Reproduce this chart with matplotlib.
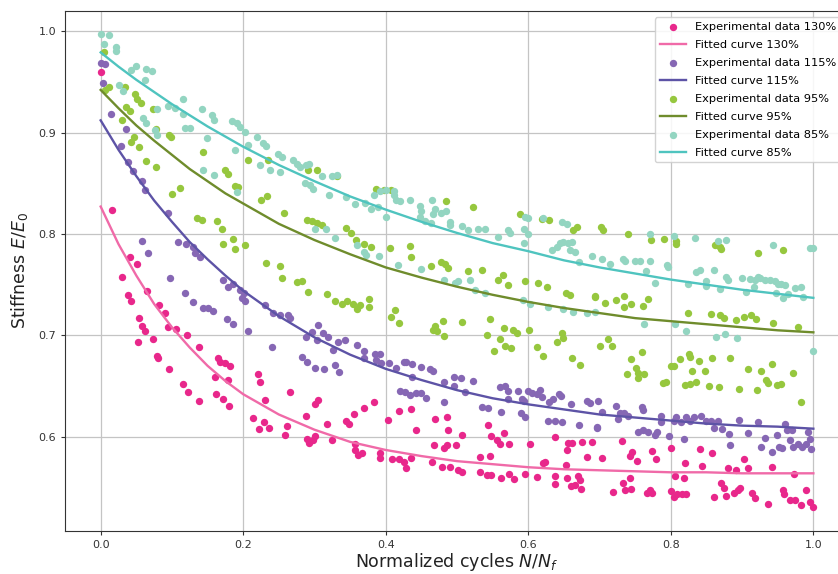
import matplotlib
matplotlib.use("Agg")
import matplotlib.pyplot as plt

# ---------------- data ----------------
fit_x = [0.000, 0.025, 0.050, 0.075, 0.100, 0.125, 0.150, 0.175, 0.200, 0.250, 0.300,
         0.350, 0.400, 0.450, 0.500, 0.550, 0.600, 0.650, 0.700, 0.750, 0.800,
         0.850, 0.900, 0.950, 1.000]

fit_130 = [0.827, 0.790, 0.759, 0.731, 0.708, 0.688, 0.670, 0.655, 0.642, 0.622, 0.607,
           0.595, 0.587, 0.581, 0.576, 0.573, 0.570, 0.568, 0.567, 0.566, 0.565,
           0.565, 0.564, 0.564, 0.564]
fit_115 = [0.912, 0.883, 0.857, 0.833, 0.812, 0.792, 0.775, 0.759, 0.744, 0.719, 0.698,
           0.681, 0.667, 0.656, 0.646, 0.638, 0.632, 0.627, 0.622, 0.619, 0.616,
           0.613, 0.611, 0.610, 0.608]
fit_95 = [0.942, 0.924, 0.907, 0.892, 0.878, 0.864, 0.852, 0.840, 0.830, 0.810, 0.794,
          0.780, 0.767, 0.757, 0.748, 0.740, 0.733, 0.727, 0.722, 0.717, 0.714,
          0.711, 0.708, 0.705, 0.703]
fit_85 = [0.979, 0.965, 0.952, 0.940, 0.928, 0.917, 0.906, 0.896, 0.886, 0.868, 0.852,
          0.837, 0.824, 0.812, 0.801, 0.791, 0.783, 0.774, 0.767, 0.761, 0.755,
          0.750, 0.745, 0.741, 0.737]

pts_130 = [
    (0.000, 0.960), (0.016, 0.824), (0.041, 0.777), (0.051, 0.770), (0.030, 0.758), (0.065, 0.744),
    (0.038, 0.740), (0.043, 0.734), (0.082, 0.730), (0.090, 0.722), (0.054, 0.717), (0.058, 0.709),
    (0.062, 0.704), (0.053, 0.693), (0.073, 0.696), (0.095, 0.708), (0.106, 0.706), (0.079, 0.680),
    (0.081, 0.678), (0.121, 0.700), (0.138, 0.689), (0.096, 0.667), (0.116, 0.652), (0.123, 0.644),
    (0.138, 0.635), (0.164, 0.678), (0.167, 0.674), (0.174, 0.673), (0.181, 0.670), (0.160, 0.659),
    (0.179, 0.656), (0.162, 0.642), (0.172, 0.637), (0.180, 0.630), (0.221, 0.662), (0.223, 0.654),
    (0.265, 0.644), (0.230, 0.636), (0.214, 0.619), (0.222, 0.608), (0.229, 0.615), (0.236, 0.609),
    (0.262, 0.611), (0.259, 0.602), (0.288, 0.621), (0.301, 0.632), (0.305, 0.636), (0.289, 0.598),
    (0.293, 0.594), (0.298, 0.597), (0.301, 0.601), (0.317, 0.613), (0.324, 0.597), (0.344, 0.616),
    (0.349, 0.613), (0.355, 0.622), (0.357, 0.593), (0.357, 0.587), (0.361, 0.582), (0.370, 0.628),
    (0.383, 0.634), (0.403, 0.617), (0.419, 0.625), (0.435, 0.627), (0.443, 0.607), (0.469, 0.618),
    (0.486, 0.620), (0.488, 0.607), (0.507, 0.602), (0.468, 0.592), (0.482, 0.589), (0.486, 0.592),
    (0.498, 0.592), (0.367, 0.584), (0.392, 0.584), (0.392, 0.579), (0.409, 0.578), (0.418, 0.578),
    (0.426, 0.575), (0.429, 0.569), (0.436, 0.579), (0.465, 0.575), (0.479, 0.570), (0.490, 0.570),
    (0.502, 0.567), (0.507, 0.565), (0.532, 0.580), (0.546, 0.581), (0.544, 0.612), (0.548, 0.601),
    (0.556, 0.597), (0.560, 0.593), (0.566, 0.604), (0.573, 0.593), (0.602, 0.593), (0.532, 0.565),
    (0.542, 0.562), (0.548, 0.562), (0.562, 0.559), (0.573, 0.563), (0.580, 0.558), (0.596, 0.563),
    (0.612, 0.560), (0.621, 0.574), (0.624, 0.575), (0.638, 0.600), (0.638, 0.561), (0.638, 0.553),
    (0.653, 0.572), (0.654, 0.559), (0.656, 0.594), (0.655, 0.587), (0.661, 0.594), (0.660, 0.551),
    (0.665, 0.552), (0.670, 0.561), (0.673, 0.557), (0.674, 0.549), (0.675, 0.595), (0.690, 0.595),
    (0.682, 0.580), (0.704, 0.579), (0.732, 0.596), (0.743, 0.581), (0.746, 0.585), (0.752, 0.576),
    (0.774, 0.586), (0.779, 0.578), (0.800, 0.589), (0.806, 0.561), (0.819, 0.559), (0.820, 0.574),
    (0.719, 0.546), (0.733, 0.554), (0.736, 0.548), (0.743, 0.559), (0.744, 0.549), (0.766, 0.545),
    (0.771, 0.548), (0.774, 0.545), (0.800, 0.547), (0.804, 0.541), (0.808, 0.544), (0.816, 0.544),
    (0.822, 0.544), (0.841, 0.588), (0.844, 0.571), (0.858, 0.584), (0.860, 0.541), (0.871, 0.554),
    (0.875, 0.550), (0.877, 0.542), (0.880, 0.569), (0.888, 0.545), (0.892, 0.567), (0.894, 0.548),
    (0.897, 0.550), (0.902, 0.578), (0.908, 0.569), (0.914, 0.545), (0.918, 0.540), (0.937, 0.534),
    (0.942, 0.570), (0.958, 0.548), (0.959, 0.544), (0.967, 0.538), (0.973, 0.563), (0.974, 0.538),
    (0.983, 0.533), (0.989, 0.548), (0.995, 0.536), (1.000, 0.531),
]

pts_115 = [
    (0.000, 0.969), (0.006, 0.968), (0.003, 0.949), (0.015, 0.918), (0.035, 0.903), (0.029, 0.887),
    (0.039, 0.871), (0.045, 0.862), (0.058, 0.852), (0.062, 0.843), (0.094, 0.821), (0.058, 0.793),
    (0.067, 0.781), (0.109, 0.792), (0.120, 0.790), (0.129, 0.787), (0.132, 0.781), (0.139, 0.777),
    (0.097, 0.757), (0.118, 0.742), (0.129, 0.733), (0.144, 0.727), (0.151, 0.727), (0.158, 0.724),
    (0.172, 0.755), (0.186, 0.751), (0.179, 0.748), (0.195, 0.745), (0.201, 0.742), (0.198, 0.737),
    (0.202, 0.734), (0.231, 0.730), (0.242, 0.722), (0.252, 0.720), (0.263, 0.720), (0.177, 0.716),
    (0.185, 0.711), (0.207, 0.704), (0.265, 0.717), (0.240, 0.689), (0.283, 0.679), (0.289, 0.674),
    (0.288, 0.698), (0.297, 0.703), (0.305, 0.710), (0.312, 0.702), (0.303, 0.695), (0.319, 0.698),
    (0.301, 0.668), (0.313, 0.667), (0.329, 0.671), (0.335, 0.664), (0.326, 0.686), (0.333, 0.693),
    (0.343, 0.695), (0.359, 0.691), (0.370, 0.685), (0.370, 0.678), (0.385, 0.682), (0.392, 0.682),
    (0.387, 0.676), (0.394, 0.673), (0.404, 0.673), (0.415, 0.668), (0.425, 0.674), (0.429, 0.674),
    (0.437, 0.672), (0.450, 0.669), (0.462, 0.667), (0.467, 0.665), (0.437, 0.659), (0.420, 0.645),
    (0.427, 0.644), (0.434, 0.641), (0.443, 0.643), (0.450, 0.643), (0.456, 0.638), (0.482, 0.654),
    (0.496, 0.659), (0.506, 0.658), (0.496, 0.650), (0.511, 0.644), (0.523, 0.655), (0.482, 0.634),
    (0.535, 0.629), (0.543, 0.628), (0.562, 0.624), (0.560, 0.649), (0.567, 0.650), (0.571, 0.645),
    (0.572, 0.637), (0.585, 0.645), (0.591, 0.637), (0.594, 0.635), (0.590, 0.623), (0.596, 0.620),
    (0.600, 0.645), (0.605, 0.643), (0.612, 0.642), (0.616, 0.646), (0.619, 0.639), (0.629, 0.634),
    (0.635, 0.637), (0.643, 0.642), (0.646, 0.640), (0.660, 0.632), (0.682, 0.635), (0.687, 0.633),
    (0.628, 0.616), (0.638, 0.616), (0.648, 0.615), (0.671, 0.612), (0.697, 0.610), (0.704, 0.624),
    (0.698, 0.635), (0.697, 0.609), (0.723, 0.630), (0.726, 0.618), (0.729, 0.623), (0.735, 0.623),
    (0.740, 0.621), (0.759, 0.629), (0.761, 0.626), (0.754, 0.605), (0.761, 0.607), (0.768, 0.605),
    (0.778, 0.602), (0.780, 0.605), (0.786, 0.621), (0.786, 0.615), (0.797, 0.601), (0.805, 0.616),
    (0.807, 0.620), (0.818, 0.598), (0.815, 0.615), (0.822, 0.620), (0.827, 0.616), (0.833, 0.620),
    (0.842, 0.621), (0.850, 0.616), (0.857, 0.616), (0.860, 0.609), (0.866, 0.616), (0.872, 0.608),
    (0.881, 0.603), (0.883, 0.592), (0.896, 0.617), (0.909, 0.604), (0.922, 0.615), (0.927, 0.590),
    (0.932, 0.599), (0.942, 0.585), (0.949, 0.602), (0.952, 0.590), (0.960, 0.613), (0.963, 0.607),
    (0.956, 0.589), (0.970, 0.607), (0.967, 0.597), (0.972, 0.590), (0.979, 0.593), (0.984, 0.590),
    (0.989, 0.593), (0.993, 0.605), (0.997, 0.588), (0.995, 0.598),
]

pts_95 = [
    (0.004, 0.979), (0.012, 0.945), (0.006, 0.942), (0.034, 0.945), (0.048, 0.938), (0.051, 0.933),
    (0.056, 0.929), (0.036, 0.925), (0.041, 0.921), (0.030, 0.912), (0.073, 0.923), (0.047, 0.896),
    (0.042, 0.891), (0.054, 0.886), (0.078, 0.903), (0.096, 0.898), (0.098, 0.896), (0.144, 0.881),
    (0.064, 0.872), (0.077, 0.866), (0.174, 0.863), (0.178, 0.859), (0.207, 0.873), (0.235, 0.873),
    (0.188, 0.847), (0.193, 0.846), (0.100, 0.839), (0.112, 0.845), (0.225, 0.833), (0.234, 0.837),
    (0.257, 0.821), (0.135, 0.816), (0.142, 0.814), (0.163, 0.813), (0.170, 0.805), (0.185, 0.795),
    (0.171, 0.790), (0.188, 0.785), (0.203, 0.789), (0.289, 0.814), (0.297, 0.813), (0.303, 0.811),
    (0.310, 0.809), (0.291, 0.863), (0.303, 0.863), (0.332, 0.857), (0.344, 0.806), (0.351, 0.801),
    (0.358, 0.794), (0.232, 0.771), (0.251, 0.768), (0.255, 0.757), (0.276, 0.753), (0.283, 0.754),
    (0.291, 0.743), (0.317, 0.741), (0.329, 0.734), (0.338, 0.731), (0.346, 0.734), (0.354, 0.731),
    (0.359, 0.726), (0.387, 0.844), (0.398, 0.843), (0.407, 0.843), (0.484, 0.832), (0.523, 0.827),
    (0.588, 0.820), (0.619, 0.815), (0.629, 0.814), (0.663, 0.804), (0.668, 0.807), (0.702, 0.807),
    (0.369, 0.790), (0.379, 0.787), (0.406, 0.786), (0.434, 0.788), (0.436, 0.777), (0.464, 0.768),
    (0.478, 0.772), (0.483, 0.770), (0.487, 0.766), (0.516, 0.763), (0.535, 0.764), (0.558, 0.755),
    (0.565, 0.760), (0.571, 0.750), (0.596, 0.754), (0.613, 0.752), (0.626, 0.748), (0.653, 0.742),
    (0.659, 0.740), (0.693, 0.738), (0.364, 0.730), (0.376, 0.736), (0.377, 0.728), (0.408, 0.718),
    (0.413, 0.725), (0.419, 0.712), (0.469, 0.709), (0.467, 0.705), (0.472, 0.704), (0.482, 0.699),
    (0.481, 0.714), (0.507, 0.713), (0.546, 0.716), (0.566, 0.707), (0.579, 0.705), (0.584, 0.702),
    (0.601, 0.705), (0.542, 0.700), (0.560, 0.696), (0.647, 0.702), (0.649, 0.697), (0.640, 0.693),
    (0.552, 0.685), (0.567, 0.690), (0.576, 0.688), (0.612, 0.689), (0.620, 0.680), (0.662, 0.678),
    (0.673, 0.671), (0.701, 0.690), (0.705, 0.804), (0.740, 0.800), (0.772, 0.794), (0.791, 0.795),
    (0.807, 0.793), (0.807, 0.790), (0.862, 0.789), (0.869, 0.787), (0.871, 0.785), (0.923, 0.781),
    (0.957, 0.784), (0.694, 0.739), (0.708, 0.732), (0.723, 0.735), (0.735, 0.739), (0.735, 0.728),
    (0.744, 0.731), (0.761, 0.729), (0.768, 0.736), (0.824, 0.722), (0.857, 0.721), (0.869, 0.720),
    (0.874, 0.717), (0.891, 0.715), (0.902, 0.718), (0.913, 0.720), (0.919, 0.716), (0.944, 0.712),
    (0.978, 0.708), (0.712, 0.696), (0.717, 0.690), (0.759, 0.684), (0.744, 0.677), (0.813, 0.677),
    (0.826, 0.682), (0.827, 0.679), (0.858, 0.678), (0.883, 0.678), (0.738, 0.662), (0.751, 0.668),
    (0.754, 0.663), (0.763, 0.662), (0.754, 0.658), (0.789, 0.653), (0.793, 0.654), (0.800, 0.670),
    (0.805, 0.670), (0.820, 0.651), (0.827, 0.652), (0.835, 0.654), (0.830, 0.665), (0.840, 0.675),
    (0.848, 0.665), (0.853, 0.650), (0.868, 0.649), (0.896, 0.647), (0.909, 0.667), (0.921, 0.646),
    (0.927, 0.665), (0.933, 0.656), (0.937, 0.653), (0.942, 0.672), (0.949, 0.651), (0.955, 0.652),
    (0.972, 0.663), (0.983, 0.634),
]

pts_85 = [
    (0.000, 0.997), (0.012, 0.996), (0.005, 0.987), (0.021, 0.984), (0.021, 0.980), (0.043, 0.962),
    (0.050, 0.966), (0.064, 0.963), (0.072, 0.961), (0.062, 0.952), (0.026, 0.947), (0.032, 0.941),
    (0.095, 0.926), (0.104, 0.924), (0.079, 0.923), (0.115, 0.933), (0.115, 0.918), (0.142, 0.923),
    (0.156, 0.917), (0.159, 0.912), (0.060, 0.914), (0.064, 0.909), (0.076, 0.902), (0.079, 0.898),
    (0.118, 0.904), (0.126, 0.904), (0.149, 0.895), (0.184, 0.911), (0.191, 0.909), (0.195, 0.905),
    (0.202, 0.901), (0.207, 0.888), (0.189, 0.883), (0.219, 0.896), (0.228, 0.890), (0.232, 0.887),
    (0.144, 0.863), (0.159, 0.858), (0.223, 0.868), (0.237, 0.863), (0.249, 0.879), (0.255, 0.876),
    (0.270, 0.873), (0.276, 0.869), (0.280, 0.866), (0.252, 0.861), (0.288, 0.868), (0.293, 0.869),
    (0.310, 0.857), (0.324, 0.857), (0.331, 0.858), (0.287, 0.850), (0.294, 0.848), (0.298, 0.844),
    (0.321, 0.838), (0.344, 0.836), (0.357, 0.830), (0.191, 0.841), (0.301, 0.805), (0.316, 0.805),
    (0.329, 0.796), (0.360, 0.789), (0.371, 0.831), (0.383, 0.838), (0.392, 0.842), (0.401, 0.843),
    (0.411, 0.842), (0.412, 0.838), (0.415, 0.833), (0.420, 0.832), (0.380, 0.825), (0.389, 0.827),
    (0.401, 0.817), (0.434, 0.833), (0.448, 0.828), (0.450, 0.823), (0.448, 0.817), (0.455, 0.813),
    (0.464, 0.811), (0.465, 0.833), (0.469, 0.825), (0.467, 0.820), (0.478, 0.821), (0.484, 0.823),
    (0.490, 0.812), (0.490, 0.809), (0.507, 0.808), (0.516, 0.804), (0.530, 0.805), (0.539, 0.805),
    (0.558, 0.797), (0.572, 0.804), (0.574, 0.801), (0.595, 0.817), (0.599, 0.816), (0.594, 0.805),
    (0.600, 0.800), (0.594, 0.791), (0.621, 0.816), (0.633, 0.784), (0.640, 0.787), (0.645, 0.791),
    (0.649, 0.792), (0.656, 0.791), (0.661, 0.792), (0.659, 0.784), (0.666, 0.782), (0.647, 0.812),
    (0.654, 0.810), (0.671, 0.772), (0.690, 0.778), (0.369, 0.782), (0.373, 0.779), (0.391, 0.778),
    (0.417, 0.769), (0.449, 0.765), (0.482, 0.755), (0.497, 0.752), (0.502, 0.754), (0.518, 0.755),
    (0.525, 0.745), (0.539, 0.742), (0.593, 0.735), (0.602, 0.731), (0.627, 0.728), (0.649, 0.726),
    (0.663, 0.723), (0.682, 0.722), (0.703, 0.775), (0.715, 0.770), (0.733, 0.775), (0.736, 0.773),
    (0.750, 0.773), (0.757, 0.773), (0.771, 0.773), (0.765, 0.763), (0.778, 0.752), (0.771, 0.800),
    (0.805, 0.798), (0.794, 0.769), (0.796, 0.767), (0.834, 0.796), (0.866, 0.793), (0.877, 0.794),
    (0.944, 0.789), (0.995, 0.786), (1.000, 0.786), (0.824, 0.751), (0.836, 0.762), (0.841, 0.764),
    (0.849, 0.754), (0.850, 0.749), (0.860, 0.764), (0.869, 0.746), (0.877, 0.758), (0.880, 0.755),
    (0.900, 0.757), (0.905, 0.743), (0.911, 0.756), (0.918, 0.755), (0.922, 0.758), (0.925, 0.757),
    (0.917, 0.748), (0.932, 0.755), (0.939, 0.755), (0.946, 0.754), (0.950, 0.751), (0.955, 0.751),
    (0.960, 0.750), (0.948, 0.742), (0.958, 0.737), (0.965, 0.741), (0.974, 0.747), (0.983, 0.748),
    (0.986, 0.738), (0.694, 0.723), (0.763, 0.711), (0.806, 0.711), (0.821, 0.704), (0.863, 0.698),
    (0.876, 0.701), (0.893, 0.697), (0.999, 0.685),
]

series = [
    ("130%", pts_130, fit_130, "#e8278b", "#f06aa8"),
    ("115%", pts_115, fit_115, "#8667b4", "#5d53a6"),
    ("95%", pts_95, fit_95, "#96c73e", "#6f8c2c"),
    ("85%", pts_85, fit_85, "#93d5c1", "#4fc4bf"),
]

# ---------------- figure ----------------
fig = plt.figure(figsize=(8.38, 5.74), dpi=100)
ax = fig.add_axes([0.0776, 0.0754, 0.9355, 0.9054])

for name, pts, fit, c_pt, c_ln in series:
    xs = [p[0] for p in pts]
    ys = [p[1] for p in pts]
    ax.scatter(xs, ys, s=28, color=c_pt, linewidths=0, label=f"Experimental data {name}", zorder=2)
    ax.plot(fit_x, fit, color=c_ln, lw=1.7, label=f"Fitted curve {name}", zorder=3)

ax.set_xlim(-0.05, 1.05)
ax.set_ylim(0.5074, 1.0198)
ax.set_xticks([0.0, 0.2, 0.4, 0.6, 0.8, 1.0])
ax.set_yticks([0.6, 0.7, 0.8, 0.9, 1.0])
ax.grid(True, color="#c4c4c4", lw=0.9)
ax.set_axisbelow(True)
ax.tick_params(labelsize=8, colors="#333333", length=3)
for sp in ax.spines.values():
    sp.set_color("#333333")

ax.set_xlabel("Normalized cycles $N/N_f$", fontsize=12.5, color="#222222", labelpad=1)
ax.set_ylabel("Stiffness $E/E_0$", fontsize=12.5, color="#222222", labelpad=6)

ax.legend(loc="upper right", bbox_to_anchor=(0.9895, 0.9879), borderaxespad=0,
          fontsize=8.2, framealpha=0.85, labelspacing=0.7, handlelength=2.3)

fig.savefig("out.png", dpi=100)
